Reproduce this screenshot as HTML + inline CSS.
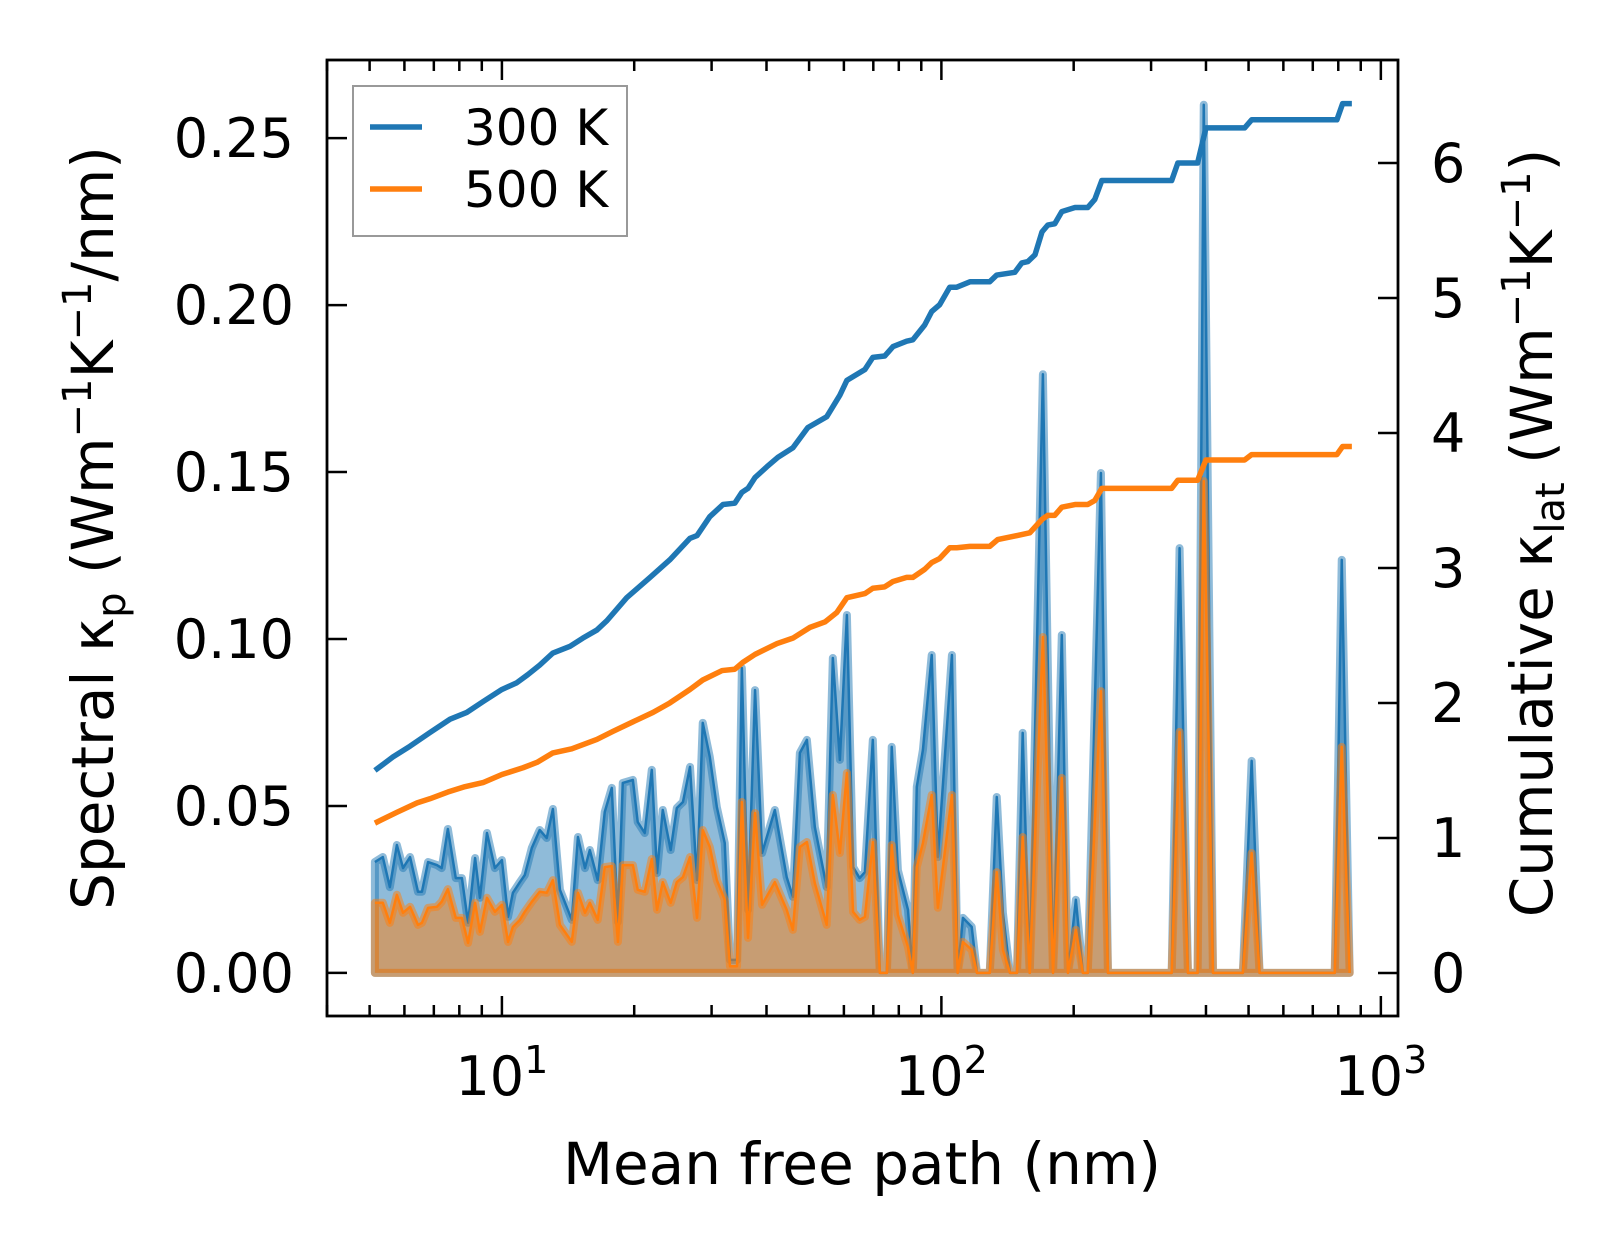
<!DOCTYPE html>
<html><head><meta charset="utf-8"><style>
html,body{margin:0;padding:0;background:#fff;}
svg{display:block;font-family:"DejaVu Sans","Liberation Sans",sans-serif;}
</style></head><body>
<svg id="chart" width="1623" height="1254" viewBox="0 0 1623 1254" xmlns="http://www.w3.org/2000/svg">
<g id="plot"></g>
<g id="axes"></g>
</svg>
<script>
// ---- data (log10 of mean free path in nm) ----
const specLog = [0.711,0.729,0.745,0.761,0.775,0.791,0.809,0.818,0.832,0.852,0.863,0.877,0.895,0.909,0.923,0.939,0.950,0.966,0.984,1.000,1.014,1.025,1.041,1.052,1.068,1.086,1.102,1.116,1.132,1.159,1.173,1.189,1.200,1.218,1.234,1.250,1.264,1.275,1.298,1.309,1.325,1.341,1.353,1.366,1.384,1.398,1.412,1.428,1.444,1.457,1.473,1.489,1.507,1.519,1.535,1.546,1.560,1.576,1.592,1.621,1.648,1.662,1.678,1.694,1.712,1.739,1.753,1.769,1.785,1.799,1.814,1.826,1.844,1.860,1.876,1.887,1.901,1.924,1.935,1.944,1.958,1.978,1.992,2.024,2.037,2.049,2.069,2.081,2.110,2.126,2.140,2.156,2.172,2.185,2.201,2.231,2.254,2.274,2.288,2.306,2.322,2.333,2.363,2.379,2.524,2.542,2.561,2.583,2.597,2.618,2.686,2.706,2.724,2.895,2.911,2.929];
const spec300 = [0.0332,0.0347,0.0257,0.0383,0.0314,0.0347,0.0243,0.0243,0.0332,0.0323,0.0314,0.0431,0.0284,0.0284,0.0150,0.0344,0.0225,0.0419,0.0314,0.0338,0.0168,0.0240,0.0272,0.0293,0.0374,0.0428,0.0404,0.0491,0.0249,0.0159,0.0407,0.0314,0.0368,0.0278,0.0482,0.0554,0.0153,0.0569,0.0578,0.0452,0.0419,0.0608,0.0299,0.0488,0.0368,0.0494,0.0512,0.0617,0.0278,0.0749,0.0647,0.0497,0.0389,0.0039,0.0039,0.0913,0.0189,0.0847,0.0359,0.0488,0.0287,0.0228,0.0659,0.0698,0.0437,0.0257,0.0943,0.0638,0.1072,0.0317,0.0284,0.0302,0.0698,0,0,0.0677,0.0308,0.0189,0,0.0557,0.0668,0.0952,0.0347,0.0952,0,0.0165,0.0138,0,0,0.0527,0.0180,0,0,0.0719,0,0.1793,0,0.1012,0,0.0219,0,0,0.1497,0,0,0.1272,0,0,0.2600,0,0,0.0635,0,0,0.1237,0];
const spec500 = [0.0210,0.0210,0.0150,0.0234,0.0180,0.0198,0.0144,0.0150,0.0195,0.0198,0.0213,0.0251,0.0165,0.0165,0.0090,0.0210,0.0123,0.0225,0.0183,0.0204,0.0093,0.0138,0.0159,0.0183,0.0213,0.0243,0.0240,0.0278,0.0144,0.0093,0.0240,0.0180,0.0210,0.0159,0.0317,0.0320,0.0093,0.0323,0.0323,0.0249,0.0243,0.0341,0.0189,0.0272,0.0210,0.0272,0.0287,0.0347,0.0165,0.0428,0.0377,0.0278,0.0219,0.0020,0.0020,0.0512,0.0105,0.0479,0.0204,0.0272,0.0189,0.0129,0.0377,0.0392,0.0269,0.0144,0.0533,0.0359,0.0599,0.0183,0.0159,0.0168,0.0392,0,0,0.0383,0.0174,0.0078,0,0.0317,0.0389,0.0533,0.0195,0.0533,0,0.0093,0.0069,0,0,0.0302,0.0069,0,0,0.0407,0,0.1006,0,0.0584,0,0.0129,0,0,0.0844,0,0,0.0722,0,0,0.1473,0,0,0.0359,0,0,0.0677,0];
const cumLog300 = [0.711,0.752,0.791,0.836,0.882,0.920,0.957,1.000,1.034,1.059,1.086,1.116,1.155,1.184,1.216,1.239,1.284,1.337,1.382,1.428,1.444,1.473,1.503,1.530,1.546,1.560,1.576,1.603,1.628,1.662,1.696,1.739,1.769,1.785,1.826,1.844,1.871,1.890,1.921,1.935,1.962,1.978,1.996,2.019,2.035,2.065,2.110,2.126,2.167,2.183,2.197,2.213,2.229,2.242,2.258,2.274,2.304,2.333,2.349,2.365,2.524,2.538,2.583,2.602,2.690,2.706,2.900,2.913,2.934];
const cum300 = [1.50,1.60,1.68,1.78,1.88,1.93,2.01,2.10,2.15,2.21,2.28,2.37,2.42,2.48,2.54,2.61,2.78,2.93,3.06,3.22,3.24,3.38,3.47,3.48,3.56,3.59,3.67,3.75,3.82,3.89,4.04,4.12,4.28,4.39,4.47,4.56,4.57,4.64,4.68,4.69,4.80,4.90,4.95,5.08,5.08,5.12,5.12,5.17,5.19,5.26,5.27,5.32,5.49,5.54,5.55,5.64,5.67,5.67,5.73,5.87,5.87,6.00,6.00,6.26,6.26,6.32,6.32,6.44,6.44];
const cumLog500 = [0.711,0.761,0.807,0.836,0.877,0.916,0.957,1.000,1.048,1.080,1.116,1.159,1.216,1.253,1.298,1.344,1.382,1.428,1.457,1.501,1.530,1.548,1.576,1.626,1.662,1.701,1.735,1.762,1.785,1.826,1.844,1.871,1.890,1.921,1.935,1.962,1.978,1.996,2.019,2.035,2.065,2.110,2.128,2.201,2.229,2.242,2.258,2.274,2.304,2.333,2.349,2.365,2.524,2.538,2.583,2.602,2.690,2.706,2.900,2.913,2.934];
const cum500 = [1.11,1.19,1.26,1.29,1.34,1.38,1.41,1.47,1.52,1.56,1.63,1.66,1.73,1.79,1.86,1.93,2.00,2.10,2.17,2.24,2.25,2.30,2.36,2.44,2.48,2.56,2.60,2.67,2.78,2.81,2.85,2.86,2.90,2.93,2.93,2.99,3.04,3.07,3.15,3.15,3.16,3.16,3.21,3.26,3.36,3.39,3.39,3.45,3.47,3.47,3.50,3.59,3.59,3.65,3.65,3.80,3.80,3.84,3.84,3.90,3.90];
const leftTicks = [0, 0.05, 0.10, 0.15, 0.20, 0.25];
const leftTickLabels = ["0.00","0.05","0.10","0.15","0.20","0.25"];
const rightTicks = [0,1,2,3,4,5,6];
const xMajor = [1,2,3];

// ---- axes geometry ----
const X0=327, X1=1398, Y0=60, Y1=1016;
const lmin=0.602, lmax=3.039;
const vmin=-0.0129, vmax=0.2734;
const kmin=-0.319, kmax=6.763;
const xs = l => X0 + (l-lmin)/(lmax-lmin)*(X1-X0);
const yl = v => Y1 - (v-vmin)/(vmax-vmin)*(Y1-Y0);
const yr = k => Y1 - (k-kmin)/(kmax-kmin)*(Y1-Y0);
const NS='http://www.w3.org/2000/svg';
const plot=document.getElementById('plot'), axes=document.getElementById('axes');
function mk(tag, attrs, parent){const e=document.createElementNS(NS,tag);for(const k in attrs)e.setAttribute(k,attrs[k]);parent.appendChild(e);return e;}

const clip=mk('clipPath',{id:'clip'},plot);
mk('rect',{x:X0,y:Y0,width:X1-X0,height:Y1-Y0},clip);
const g=mk('g',{'clip-path':'url(#clip)'},plot);

function spectral(vals, color, name){
  let pts=[xs(specLog[0])+','+yl(0)];
  for(let i=0;i<vals.length;i++) pts.push(xs(specLog[i])+','+yl(vals[i]));
  pts.push(xs(specLog[specLog.length-1])+','+yl(0));
  const poly=mk('polygon',{points:pts.join(' '),fill:color,'fill-opacity':0.5,stroke:color,'stroke-opacity':0.5,'stroke-width':8,'stroke-linejoin':'round'},g);
  
  
  const lp=vals.map((v,i)=>xs(specLog[i])+','+yl(v)).join(' ');
  const line=mk('polyline',{points:lp,fill:'none',stroke:color,'stroke-width':2.5,'stroke-linejoin':'round'},g);
  
  
}
spectral(spec300,'#1f77b4','spectral-300k');
spectral(spec500,'#ff7f0e','spectral-500k');

function cumul(ls, ks, color, name){
  const p=ls.map((l,i)=>xs(l)+','+yr(ks[i])).join(' ');
  const e=mk('polyline',{points:p,fill:'none',stroke:color,'stroke-width':5.5,'stroke-linejoin':'round'},g);
  
  
}
cumul(cumLog300,cum300,'#1f77b4','cumulative-300k');
cumul(cumLog500,cum500,'#ff7f0e','cumulative-500k');

// ticks
const tk={stroke:'#000','stroke-width':2.5};
for(const t of leftTicks){mk('line',Object.assign({x1:X0,x2:X0+20,y1:yl(t),y2:yl(t)},tk),axes);}
leftTicks.forEach((t,i)=>{const e=mk('text',{x:294,y:yl(t)+19,'text-anchor':'end','font-size':54},axes);e.textContent=leftTickLabels[i];
  
  });
for(const t of rightTicks){mk('line',Object.assign({x1:X1-20,x2:X1,y1:yr(t),y2:yr(t)},tk),axes);
  const e=mk('text',{x:1431,y:yr(t)+19,'font-size':54},axes);e.textContent=String(t);
  
  }
for(let d=0;d<=2;d++){for(let m=2;m<=9;m++){const l=d+Math.log10(m);if(l<lmin||l>lmax)continue;const x=xs(l);
  mk('line',Object.assign({x1:x,x2:x,y1:Y1,y2:Y1-11},tk),axes);mk('line',Object.assign({x1:x,x2:x,y1:Y0,y2:Y0+11},tk),axes);}}
for(const l of xMajor){const x=xs(l);
  mk('line',Object.assign({x1:x,x2:x,y1:Y1,y2:Y1-20},tk),axes);mk('line',Object.assign({x1:x,x2:x,y1:Y0,y2:Y0+20},tk),axes);
  const e=mk('text',{x:x,y:1095,'text-anchor':'middle','font-size':54},axes);
  
  
  e.innerHTML='10<tspan dy="-22" font-size="38">'+l+'</tspan>';}
mk('rect',{x:X0,y:Y0,width:X1-X0,height:Y1-Y0,fill:'none',stroke:'#000','stroke-width':2.8},axes);
</script>
<script>
const svg=document.getElementById('chart');
svg.insertAdjacentHTML('beforeend',`
<text x="862" y="1184" text-anchor="middle" font-size="58">Mean free path (nm)</text>
<text transform="translate(113,528) rotate(-90)" text-anchor="middle" font-size="58">Spectral κ<tspan dy="12" font-size="40">p</tspan><tspan dy="-12"> (Wm</tspan><tspan dy="-22" font-size="40">−1</tspan><tspan dy="22">K</tspan><tspan dy="-22" font-size="40">−1</tspan><tspan dy="22">/nm)</tspan></text>
<text transform="translate(1552,533) rotate(-90)" text-anchor="middle" font-size="58">Cumulative κ<tspan dy="12" font-size="40">lat</tspan><tspan dy="-12"> (Wm</tspan><tspan dy="-22" font-size="40">−1</tspan><tspan dy="22">K</tspan><tspan dy="-22" font-size="40">−1</tspan><tspan dy="22">)</tspan></text>
<g>
<rect x="353" y="86" width="274" height="150" fill="#fff" fill-opacity="0.8" stroke="#999" stroke-width="2"/>
<line x1="370" x2="422" y1="127" y2="127" stroke="#1f77b4" stroke-width="5.5"/>
<text x="464" y="145" font-size="50">300 K</text>
<line x1="370" x2="422" y1="189" y2="189" stroke="#ff7f0e" stroke-width="5.5"/>
<text x="464" y="207" font-size="50">500 K</text>
</g>`);
</script>
</body></html>
